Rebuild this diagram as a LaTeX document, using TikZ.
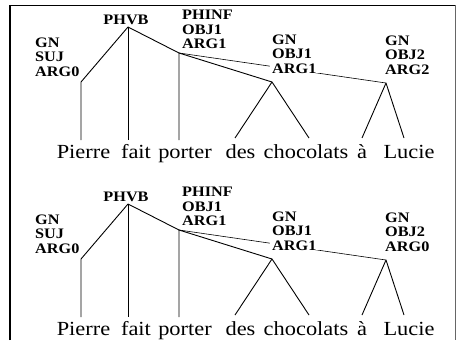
\documentclass[tikz,border=0pt]{standalone}
\usepackage{fontspec}
\setmainfont[FakeStretch=1.12]{Liberation Serif}
\newcommand\halftree[3]{%
\begin{scope}[shift={(0,#2)}]
  % tree points
  \coordinate (#1vb) at (128,27);
  \coordinate (#1suj) at (81,82);
  \coordinate (#1sujf) at (81,140);
  \coordinate (#1vbf) at (128,140);
  \coordinate (#1inf) at (179,53);
  \coordinate (#1inff) at (179,140);
  \coordinate (#1oa) at (272,82);
  \coordinate (#1oaL) at (235,138);
  \coordinate (#1oaR) at (309,138);
  \coordinate (#1ob) at (386,83);
  \coordinate (#1obL) at (362,138);
  \coordinate (#1obR) at (404,138);
  % connectors
  \draw[tree] (#1vb) -- (#1suj) -- (#1sujf);
  \draw[tree] (#1vb) -- (#1vbf);
  \draw[tree] (#1vb) -- (#1inf) -- (#1inff);
  \draw[tree] (#1inf) -- (#1oa);
  \draw[thinln] (#1inf) -- (#1ob);
  \draw[tree] (#1oaL) -- (#1oa) -- (#1oaR);
  \draw[tree] (#1obL) -- (#1ob) -- (#1obR);
  % labels
  \node[lab, anchor=base] (#1lvb) at (126,24) {PHVB};
  \node[lab] (#1ls1) at (35,47) {GN};
  \node[lab] (#1ls2) at (35,61.5) {SUJ};
  \node[lab] (#1ls3) at (35,76) {ARG0};
  \node[lab] (#1li1) at (182,19.5) {PHINF};
  \node[lab] (#1li2) at (182,34) {OBJ1};
  \node[lab] (#1li3) at (182,48.5) {ARG1};
  \node[lab] (#1la1) at (272,44) {GN};
  \node[lab] (#1la2) at (272,58.5) {OBJ1};
  \node[lab, fill=white, inner xsep=2.5pt] (#1la3) at (269.5,73) {ARG1};
  \node[lab] (#1lb1) at (385,45) {GN};
  \node[lab] (#1lb2) at (385,59.5) {OBJ2};
  \node[lab] (#1lb3) at (385,74) {#3};
  % words
  \node[word] (#1w1) at (83.5,158) {Pierre};
  \node[word] (#1w2) at (136,158) {fait};
  \node[word] (#1w3) at (185,158) {porter};
  \node[word] (#1w4) at (240.5,158) {des};
  \node[word] (#1w5) at (306,158) {chocolats};
  \node[word] (#1w6) at (362,158) {à};
  \node[word] (#1w7) at (409,158) {Lucie};
\end{scope}}
\begin{document}
\begin{tikzpicture}[x=1pt,y=-1pt,
  tree/.style={line width=0.9pt, line join=round},
  thinln/.style={line width=0.6pt},
  lab/.style={font=\fontsize{14.5}{14.5}\selectfont\bfseries, inner sep=0pt, anchor=base west},
  word/.style={font=\fontsize{20}{20}\selectfont, inner sep=0pt, anchor=base}]
  \useasboundingbox (0,0) rectangle (457,340);
  \coordinate (fTL) at (10,5);
  \coordinate (fTR) at (455,5);
  \coordinate (fBL) at (10,340);
  \coordinate (fBR) at (455,340);
  \draw[line width=1.3pt] (fBL) -- (fTL);
  \draw[line width=0.7pt] (fTL) -- (fTR);
  \draw[line width=0.6pt, black!60] (fTR) -- (fBR);
  \halftree{t}{0}{ARG2}
  \halftree{b}{177}{ARG0}
\end{tikzpicture}
\end{document}
